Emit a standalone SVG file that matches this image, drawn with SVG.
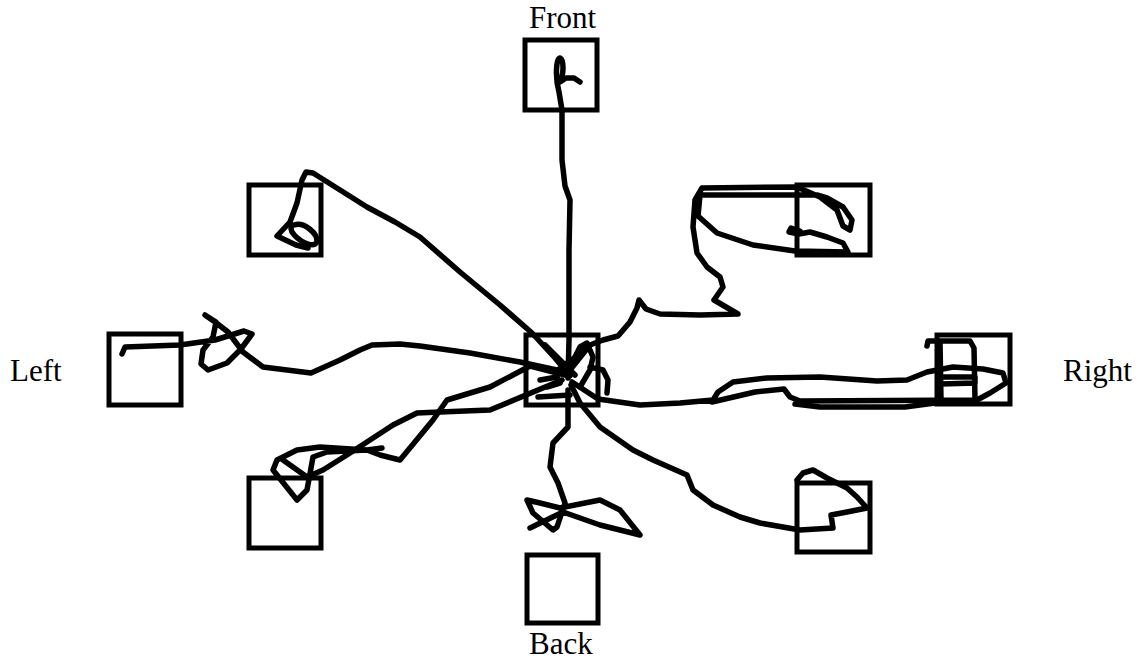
<svg xmlns="http://www.w3.org/2000/svg" width="1143" height="664" viewBox="0 0 1143 664">
<style>
.box{fill:none;stroke:#000;stroke-width:5}
.trk{fill:none;stroke:#000;stroke-width:5.5;stroke-linecap:round;stroke-linejoin:round}
.lbl{font-family:"Liberation Serif","Times New Roman",serif;font-size:31px;fill:#000}
</style>
<rect width="1143" height="664" fill="#fff"/>
<g id="node-front"><rect class="box" x="525" y="40" width="72" height="70"/><text class="lbl" x="529" y="28">Front</text></g>
<g id="node-center"><rect class="box" x="526" y="335" width="72" height="70"/></g>
<g id="node-left"><rect class="box" x="109" y="334" width="72" height="71"/><text class="lbl" x="10" y="381">Left</text></g>
<g id="node-right"><rect class="box" x="937" y="335" width="73" height="69"/><text class="lbl" x="1063" y="381">Right</text></g>
<g id="node-topleft"><rect class="box" x="249" y="185" width="72" height="70"/></g>
<g id="node-topright"><rect class="box" x="797" y="185" width="73" height="70"/></g>
<g id="node-bottomleft"><rect class="box" x="249" y="478" width="72" height="70"/></g>
<g id="node-bottomright"><rect class="box" x="797" y="483" width="73" height="69"/></g>
<g id="node-back"><rect class="box" x="527" y="555" width="71" height="68"/><text class="lbl" x="529" y="654">Back</text></g>
<g id="connectors">
<path class="trk" d="M 568,378 L 569,340 L 569,250 L 570,200 L 565,186 L 562,160 L 562,110 L 559,92 C 555,78 556,58 560,58 C 564,60 564,74 560,82 L 566,78 L 574,78 L 580,82"/>
<path class="trk" d="M 570,376 L 555,358 L 532,333 L 500,305 L 460,272 L 420,237 L 395,222 L 367,207 L 340,190 L 313,173 L 306,172 L 302,180 L 297,203 L 290,222 L 277,236 L 296,245 L 308,248"/>
<path class="trk" d="M 294,225 C 304,221 318,234 317,242 C 313,249 298,241 292,232 C 290,227 291,225 294,225 Z"/>
<path class="trk" d="M 566,372 L 520,362 L 470,353 L 420,346 L 400,344 L 372,345 L 360,350 L 340,360 L 311,373 L 263,367 L 243,352 L 228,332 L 215,322 L 205,315 L 216,322 L 213,337 L 203,350 L 201,364 L 208,370 L 227,363 L 241,349 L 252,334 L 244,331 L 215,340 L 180,345 L 125,347 L 122,354"/>
<path class="trk" d="M 570,370 L 590,345 L 603,340 L 618,336 L 630,322 L 637,308 L 639,300 L 646,309 L 660,314 L 700,315 L 738,314 L 714,300 L 723,287 L 720,277 L 707,267 L 697,253 L 693,227 L 695,200 L 702,188 L 797,187 L 820,197 L 837,210 L 843,226 L 850,230 L 852,220 L 843,207 L 827,198 L 817,195 L 700,195 L 698,216 L 717,233 L 753,245 L 795,251 L 848,252 L 843,243 L 827,237 L 810,232 L 799,234 L 789,232 L 791,228 L 800,231"/>
<path class="trk" d="M 572,382 L 598,399 L 640,405 L 680,403 L 713,400 L 718,392 L 733,382 L 767,378 L 820,377 L 877,381 L 907,380 L 927,372 L 953,367 L 983,369 L 1003,373 L 1006,383 L 990,393 L 977,400 L 800,401 L 790,397 L 784,389 L 755,392 L 712,402"/>
<path class="trk" d="M 795,404 L 820,407 L 905,407 L 935,403 L 975,401"/>
<path class="trk" d="M 927,346 L 928,341 L 940,341 L 941,400 M 940,341 L 970,341 L 974,348 L 975,400 M 941,377 L 975,377 L 975,383 L 941,384"/>
<path class="trk" d="M 571,385 L 580,403 L 600,427 L 633,450 L 653,460 L 687,475 L 693,490 L 713,505 L 740,517 L 760,523 L 800,530 L 833,528 L 831,515 L 847,512 L 867,508 L 857,497 L 847,488 L 827,478 L 813,470 L 803,473 L 797,480"/>
<path class="trk" d="M 568,390 L 568,407 L 568,427 L 553,443 L 550,467 L 558,483 L 565,503 L 557,527 L 553,530 L 533,513 L 527,500 L 540,503 L 560,508 L 600,500 L 620,510 L 640,535 L 600,525 L 563,512 L 530,528"/>
<path class="trk" d="M 565,375 L 530,366 L 490,387 L 447,400 L 433,420 L 400,460 L 380,455 L 367,450 L 327,452 L 313,457 L 307,490 L 297,500 L 273,470 L 277,460 L 297,450 L 320,447 L 367,450 L 382,448"/>
<path class="trk" d="M 562,380 L 490,410 L 440,412 L 417,413 L 393,425 L 370,440 L 350,453 L 323,470 L 307,477 L 283,460"/>
<path class="trk" d="M 540,380 L 557,377 L 560,383 L 547,387 M 538,397 L 570,395 M 580,387 L 590,370 L 593,357 L 587,343 L 580,347 L 570,367 M 590,367 L 603,370 L 608,380 L 607,393 M 545,345 L 575,375 M 555,372 L 585,350"/>
</g>
</svg>
